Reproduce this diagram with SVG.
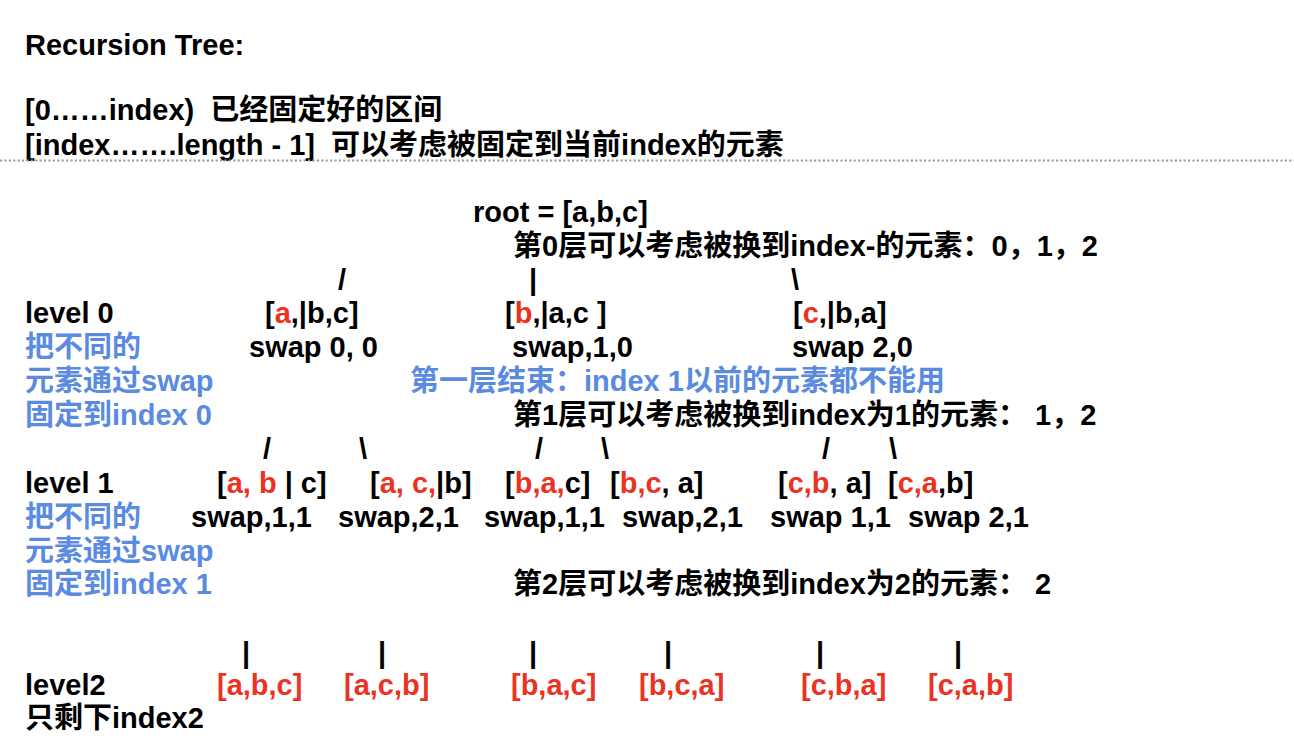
<svg xmlns="http://www.w3.org/2000/svg" width="1294" height="752" viewBox="0 0 1294 752">
<style>
text{font-family:"Liberation Sans","Noto Sans CJK SC",sans-serif;font-weight:bold;font-size:29px;fill:#000;white-space:pre}
.b{fill:#5A8BE0}
.r{fill:#EA3323}
</style>
<rect width="1294" height="752" fill="#fff"/>
<g id="header">
<text x="25" y="55">Recursion Tree:</text>
<text x="25" y="120" xml:space="preserve">[0……index)  已经固定好的区间</text>
<text x="25" y="155" xml:space="preserve">[index…….length - 1]  可以考虑被固定到当前index的元素</text>
<line x1="0" y1="160.5" x2="1294" y2="160.5" stroke="#9a9a9a" stroke-width="2" stroke-dasharray="2.2 2.2"/>
</g>
<g id="labels">
<text x="25" y="323">level 0</text>
<text class="b" x="25" y="357">把不同的</text>
<text class="b" x="25" y="391">元素通过swap</text>
<text class="b" x="25" y="425">固定到index 0</text>
<text x="25" y="493">level 1</text>
<text class="b" x="25" y="527">把不同的</text>
<text class="b" x="25" y="561">元素通过swap</text>
<text class="b" x="25" y="594">固定到index 1</text>
<text x="25" y="695">level2</text>
<text x="25" y="728">只剩下index2</text>
</g>
<g id="notes">
<text x="513" y="256">第0层可以考虑被换到index-的元素：0，1，2</text>
<text class="b" x="410" y="391">第一层结束：index 1以前的元素都不能用</text>
<text x="513" y="425" xml:space="preserve">第1层可以考虑被换到index为1的元素： 1，2</text>
<text x="513" y="594" xml:space="preserve">第2层可以考虑被换到index为2的元素： 2</text>
</g>
<g id="root"><text x="473" y="222">root = [a,b,c]</text></g>
<g id="n0a"><text x="265" y="323">[<tspan class="r">a</tspan>,|b,c]</text><text x="249" y="357">swap 0, 0</text></g>
<g id="n0b"><text x="505" y="323" xml:space="preserve">[<tspan class="r">b</tspan>,|a,c ]</text><text x="512" y="357">swap,1,0</text></g>
<g id="n0c"><text x="793" y="323">[<tspan class="r">c</tspan>,|b,a]</text><text x="792" y="357">swap 2,0</text></g>
<g id="n1a"><text x="217" y="493" xml:space="preserve">[<tspan class="r">a, b</tspan> | c]</text><text x="191" y="527">swap,1,1</text></g>
<g id="n1b"><text x="370" y="493" xml:space="preserve">[<tspan class="r">a, c,</tspan>|b]</text><text x="338" y="527">swap,2,1</text></g>
<g id="n1c"><text x="505" y="493">[<tspan class="r">b,a,</tspan>c]</text><text x="484" y="527">swap,1,1</text></g>
<g id="n1d"><text x="610" y="493" xml:space="preserve">[<tspan class="r">b,c</tspan>, a]</text><text x="622" y="527">swap,2,1</text></g>
<g id="n1e"><text x="778" y="493" xml:space="preserve">[<tspan class="r">c,b</tspan>, a]</text><text x="770" y="527">swap 1,1</text></g>
<g id="n1f"><text x="888" y="493">[<tspan class="r">c,a</tspan>,b]</text><text x="908" y="527">swap 2,1</text></g>
<g id="n2a"><text class="r" x="217" y="695">[a,b,c]</text></g>
<g id="n2b"><text class="r" x="344" y="695">[a,c,b]</text></g>
<g id="n2c"><text class="r" x="511" y="695">[b,a,c]</text></g>
<g id="n2d"><text class="r" x="639" y="695">[b,c,a]</text></g>
<g id="n2e"><text class="r" x="801" y="695">[c,b,a]</text></g>
<g id="n2f"><text class="r" x="928" y="695">[c,a,b]</text></g>
<g id="connectors">
<text x="338" y="290">/</text>
<text x="529" y="290">|</text>
<text x="791" y="290">\</text>
<text x="263" y="459">/</text>
<text x="359" y="459">\</text>
<text x="535" y="459">/</text>
<text x="601" y="459">\</text>
<text x="822" y="459">/</text>
<text x="889" y="459">\</text>
<text x="242" y="663">|</text>
<text x="378" y="663">|</text>
<text x="529" y="663">|</text>
<text x="664" y="663">|</text>
<text x="816" y="663">|</text>
<text x="954" y="663">|</text>
</g>
</svg>
